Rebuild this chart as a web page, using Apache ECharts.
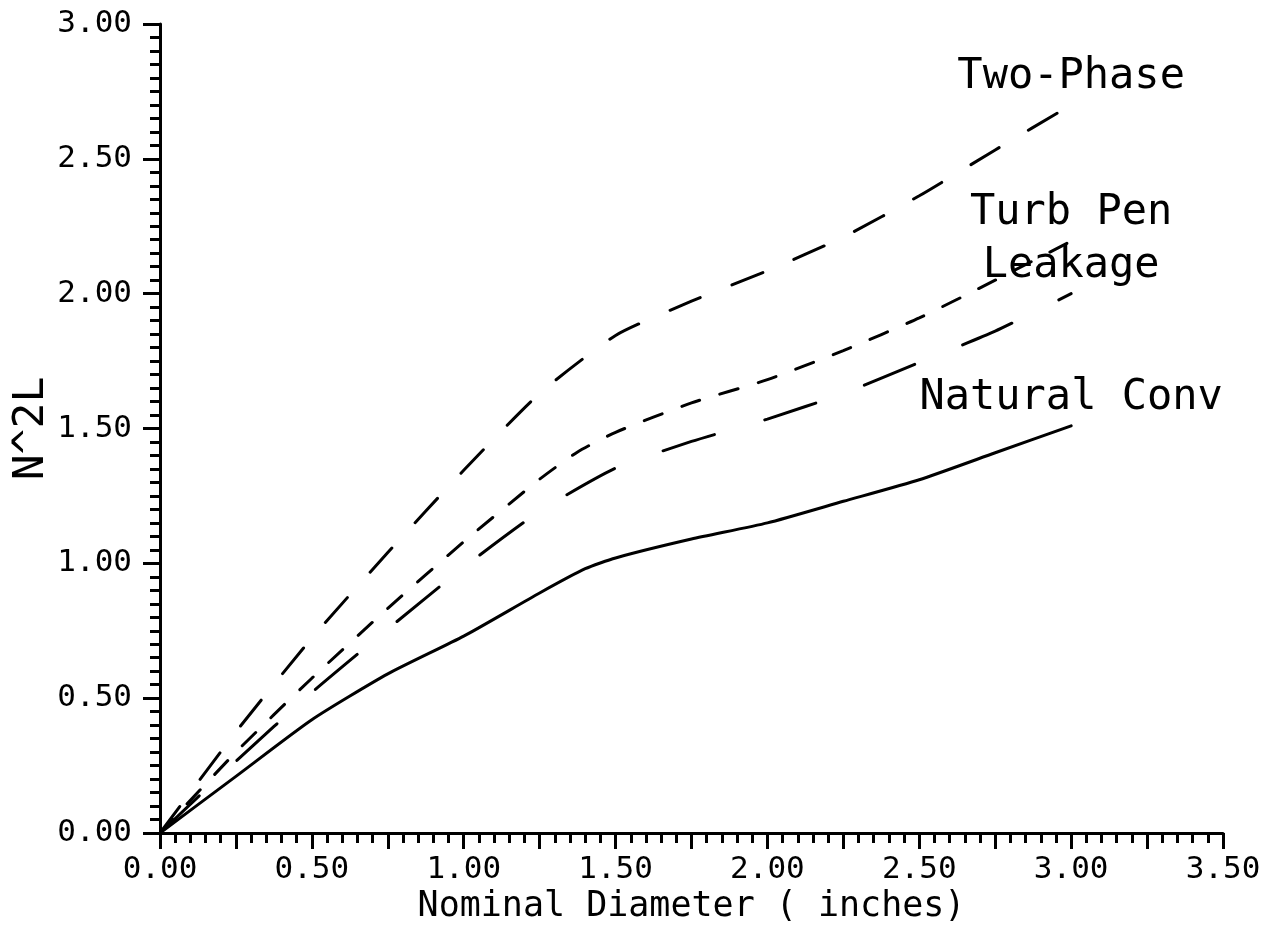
<!DOCTYPE html>
<html>
<head>
<meta charset="utf-8">
<script src="https://cdn.jsdelivr.net/npm/echarts@6/dist/echarts.min.js"></script>
<style>
html,body{margin:0;padding:0;background:#fff;}
#chart{width:1265px;height:926px;}
</style>
</head>
<body>
<div id="chart"></div>
<script>
// ---- data ----
const seriesNames = ['Two-Phase', 'Turb Pen', 'Leakage', 'Natural Conv'];

const xTwoPhase = [0, 0.25, 0.5, 0.75, 1.0, 1.25, 1.5, 1.75, 2.0, 2.25, 2.5, 2.75, 3.0];
const yTwoPhase = [0, 0.375, 0.723, 1.04, 1.345, 1.63, 1.845, 1.972, 2.085, 2.21, 2.363, 2.533, 2.70];

const xTurbPen = [0, 0.25, 0.5, 0.75, 1.0, 1.25, 1.375, 1.5, 1.75, 2.0, 2.25, 2.5, 2.75, 3.0];
const yTurbPen = [0, 0.30, 0.574, 0.833, 1.08, 1.312, 1.413, 1.486, 1.595, 1.681, 1.789, 1.91, 2.05, 2.195];

const xLeakage = [0, 0.25, 0.5, 0.75, 1.0, 1.25, 1.5, 1.75, 2.0, 2.25, 2.5, 2.75, 3.0];
const yLeakage = [0, 0.266, 0.521, 0.756, 0.985, 1.193, 1.353, 1.452, 1.535, 1.63, 1.745, 1.861, 2.00];

const xNatural = [0, 0.25, 0.5, 0.75, 1.0, 1.25, 1.4, 1.5, 1.75, 2.0, 2.25, 2.5, 2.75, 3.0];
const yNatural = [0, 0.21, 0.42, 0.59, 0.73, 0.89, 0.98, 1.02, 1.09, 1.15, 1.23, 1.31, 1.41, 1.51];

const xAxisTitle = 'Nominal Diameter ( inches)';
const yAxisTitle = 'N^2L';

// ---- build ----
const FONT = '"DejaVu Sans Mono", monospace';
function buildData(xs, ys, name) {
  return xs.map((x, i) => {
    const item = { value: [x, ys[i]] };
    if (i === xs.length - 1) {
      item.label = {
        show: true, position: 'top', distance: 6,
        formatter: name, color: '#000',
        fontFamily: FONT, fontSize: 42
      };
    }
    return item;
  });
}
function lineSeries(name, xs, ys, dash) {
  return {
    name: name, type: 'line', smooth: 0.2,
    data: buildData(xs, ys, name),
    showSymbol: true, symbol: 'circle', symbolSize: 1,
    itemStyle: { color: 'rgba(0,0,0,0)' },
    lineStyle: { color: '#000', width: 3, type: dash, cap: 'round' },
    emphasis: { disabled: true },
    animation: false, z: 3
  };
}

const chart = echarts.init(document.getElementById('chart'), null, { renderer: 'canvas' });
chart.setOption({
  backgroundColor: '#fff',
  animation: false,
  grid: { left: 160, right: 42, top: 24, bottom: 93, containLabel: false, outerBoundsMode: 'none' },
  xAxis: {
    type: 'value', min: 0, max: 3.5, interval: 0.25,
    name: xAxisTitle, nameLocation: 'middle', nameGap: 56, nameMoveOverlap: false,
    nameTextStyle: { fontFamily: FONT, fontSize: 35, color: '#000' },
    axisLine: { show: true, onZero: false, lineStyle: { color: '#000', width: 3 } },
    axisTick: { show: true, inside: false, length: 16, lineStyle: { color: '#000', width: 3 } },
    minorTick: { show: true, splitNumber: 5, length: 10, lineStyle: { color: '#000', width: 3 } },
    axisLabel: {
      margin: 21, color: '#000', fontFamily: FONT, fontSize: 31, hideOverlap: false,
      formatter: v => (Math.round(v * 100) % 50 === 0 ? v.toFixed(2) : '')
    },
    splitLine: { show: false }, minorSplitLine: { show: false }
  },
  yAxis: {
    type: 'value', min: 0, max: 3.0, interval: 0.5,
    name: yAxisTitle, nameLocation: 'middle', nameGap: 107, nameRotate: 90, nameMoveOverlap: false,
    nameTextStyle: { fontFamily: FONT, fontSize: 43, color: '#000' },
    axisLine: { show: true, onZero: false, lineStyle: { color: '#000', width: 3 } },
    axisTick: { show: true, inside: false, length: 17, lineStyle: { color: '#000', width: 3 } },
    minorTick: { show: true, splitNumber: 10, length: 10, lineStyle: { color: '#000', width: 3 } },
    axisLabel: {
      margin: 28, color: '#000', fontFamily: FONT, fontSize: 31,
      formatter: v => v.toFixed(2)
    },
    splitLine: { show: false }, minorSplitLine: { show: false }
  },
  series: [
    lineSeries(seriesNames[0], xTwoPhase, yTwoPhase, [33, 34]),
    lineSeries(seriesNames[1], xTurbPen, yTurbPen, [19, 21]),
    lineSeries(seriesNames[2], xLeakage, yLeakage, [54, 52]),
    lineSeries(seriesNames[3], xNatural, yNatural, 'solid')
  ]
});
</script>
</body>
</html>
